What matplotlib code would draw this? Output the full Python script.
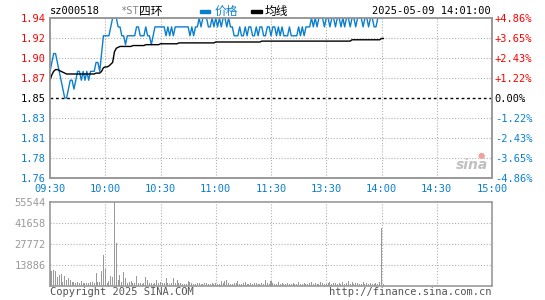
import numpy as np
import matplotlib.pyplot as plt

# 分时数据 (每分钟)
prices = [
    1.88, 1.89, 1.90, 1.90, 1.89, 1.88, 1.87, 1.86, 1.85, 1.85,
    1.86, 1.87, 1.87, 1.86, 1.87, 1.88, 1.88, 1.87, 1.88, 1.87,
    1.88, 1.87, 1.88, 1.88, 1.88, 1.89, 1.89, 1.88, 1.90, 1.92,
    1.92, 1.92, 1.92, 1.93, 1.94, 1.94, 1.94, 1.93, 1.93, 1.92,
    1.92, 1.91, 1.92, 1.92, 1.92, 1.92, 1.92, 1.93, 1.93, 1.92,
    1.92, 1.92, 1.93, 1.92, 1.92, 1.91, 1.92, 1.93, 1.93, 1.93,
    1.93, 1.93, 1.93, 1.92, 1.93, 1.92, 1.93, 1.92, 1.93, 1.93,
    1.93, 1.93, 1.93, 1.93, 1.93, 1.93, 1.92, 1.93, 1.92, 1.93,
    1.93, 1.94, 1.93, 1.94, 1.94, 1.94, 1.93, 1.93, 1.94, 1.93,
    1.94, 1.93, 1.94, 1.93, 1.94, 1.94, 1.93, 1.94, 1.93, 1.93,
    1.92, 1.92, 1.92, 1.93, 1.92, 1.92, 1.93, 1.92, 1.93, 1.93,
    1.92, 1.92, 1.93, 1.92, 1.93, 1.93, 1.92, 1.92, 1.93, 1.93,
    1.92, 1.93, 1.93, 1.92, 1.93, 1.92, 1.93, 1.92, 1.92, 1.92,
    1.93, 1.92, 1.92, 1.92, 1.92, 1.93, 1.92, 1.93, 1.92, 1.93,
    1.93, 1.93, 1.94, 1.93, 1.94, 1.93, 1.94, 1.94, 1.94, 1.93,
    1.94, 1.94, 1.93, 1.94, 1.94, 1.93, 1.94, 1.94, 1.93, 1.94,
    1.93, 1.94, 1.94, 1.93, 1.94, 1.94, 1.93, 1.94, 1.94, 1.94,
    1.93, 1.94, 1.94, 1.93, 1.94, 1.94, 1.93, 1.93, 1.94, 1.94,
    1.94, 1.94,
]

avg_prices = [
    1.870, 1.876, 1.880, 1.882, 1.882, 1.881, 1.880, 1.879, 1.878, 1.877,
    1.877, 1.877, 1.877, 1.877, 1.877, 1.877, 1.877, 1.877, 1.877, 1.877,
    1.877, 1.877, 1.877, 1.877, 1.877, 1.878, 1.878, 1.878, 1.880, 1.884,
    1.885, 1.885, 1.886, 1.888, 1.890, 1.902, 1.906, 1.907, 1.908, 1.908,
    1.908, 1.908, 1.908, 1.908, 1.908, 1.909, 1.909, 1.909, 1.909, 1.909,
    1.909, 1.909, 1.910, 1.910, 1.910, 1.910, 1.910, 1.910, 1.910, 1.910,
    1.911, 1.911, 1.911, 1.911, 1.911, 1.911, 1.911, 1.911, 1.911, 1.911,
    1.912, 1.912, 1.912, 1.912, 1.912, 1.912, 1.912, 1.912, 1.912, 1.912,
    1.912, 1.912, 1.912, 1.912, 1.912, 1.912, 1.912, 1.912, 1.912, 1.912,
    1.913, 1.913, 1.913, 1.913, 1.913, 1.913, 1.913, 1.913, 1.913, 1.913,
    1.913, 1.913, 1.913, 1.913, 1.913, 1.913, 1.913, 1.913, 1.913, 1.913,
    1.913, 1.913, 1.913, 1.913, 1.913, 1.914, 1.914, 1.914, 1.914, 1.914,
    1.914, 1.914, 1.914, 1.914, 1.914, 1.914, 1.914, 1.914, 1.914, 1.914,
    1.914, 1.914, 1.914, 1.914, 1.914, 1.914, 1.914, 1.914, 1.914, 1.914,
    1.914, 1.914, 1.914, 1.914, 1.914, 1.914, 1.914, 1.914, 1.914, 1.914,
    1.914, 1.914, 1.914, 1.914, 1.914, 1.914, 1.914, 1.914, 1.914, 1.914,
    1.914, 1.914, 1.914, 1.914, 1.9155, 1.9155, 1.9155, 1.9155, 1.9155, 1.9155,
    1.9155, 1.9155, 1.9155, 1.9155, 1.9155, 1.9155, 1.9155, 1.9155, 1.9155, 1.9155,
    1.917, 1.917,
]

volumes = [
    10300, 9800, 10300, 9700, 6000, 7000, 7500, 2600, 6300, 3700,
    4800, 3700, 2200, 2500, 2000, 2500, 2000, 3000, 2000, 1500,
    1800, 1500, 2500, 2500, 2000, 8500, 2500, 2500, 10000, 20000,
    11000, 2000, 3000, 6500, 6000, 55544, 28500, 3500, 7000, 2500,
    9000, 5000, 2000, 2500, 3000, 1500, 1500, 6500, 1500, 2000,
    1200, 1500, 6000, 3700, 1500, 1500, 1200, 1500, 3700, 1500,
    2500, 2000, 1500, 4800, 2000, 1200, 1500, 4800, 1500, 4000,
    2000, 1500, 1200, 1000, 1200, 3000, 2200, 1500, 1000, 1200,
    1500, 2000, 1200, 1000, 1500, 2000, 1200, 1000, 1500, 1200,
    1500, 1000, 1200, 3000, 1500, 3000, 4000, 1500, 1200, 1000,
    1500, 1800, 3000, 1200, 1000, 1500, 2500, 1200, 1000, 1500,
    1200, 1500, 2000, 1000, 1200, 1500, 1000, 3500, 2000, 1200,
    3000, 1500, 1200, 1000, 2500, 1200, 1500, 1000, 1200, 1500,
    1000, 1200, 1500, 1000, 1200, 2500, 1200, 1000, 1500, 1200,
    1000, 1500, 2500, 1200, 1500, 1000, 1200, 2500, 1500, 1200,
    1000, 1500, 2500, 1200, 1800, 2000, 1200, 1500, 1000, 2500,
    1200, 1500, 3000, 1200, 2500, 1000, 1500, 2000, 1200, 1000,
    2500, 1200, 1500, 1000, 2000, 1200, 1000, 1500, 1200, 2500,
    38000, 1200,
]

prev_close = 1.85
price_labels = ["1.76", "1.78", "1.81", "1.83", "1.85", "1.87", "1.90", "1.92", "1.94"]
pct_labels = ["-4.86%", "-3.65%", "-2.43%", "-1.22%", "0.00%",
              "+1.22%", "+2.43%", "+3.65%", "+4.86%"]
time_labels = ["09:30", "10:00", "10:30", "11:00", "11:30",
               "13:30", "14:00", "14:30", "15:00"]
vol_labels = ["13886", "27772", "41658", "55544"]

BLUE = "#0a7fd0"
RED = "#ff0000"
GRID = "#b0b0b0"
FRAME = "#999999"
MONO = "DejaVu Sans Mono"
CJK = ["Noto Sans CJK SC", "DejaVu Sans"]

plt.rcParams['font.family'] = [MONO, "Noto Sans CJK SC"]

W, H = 545, 300
fig = plt.figure(figsize=(W / 100, H / 100), dpi=100)


def fx(x):
    return x / W


def fy(y):
    return 1 - y / H


# 坐标区 (像素)
L, R = 50, 492
T1, B1 = 18, 178
T2, B2 = 201.7, 285.7
ax = fig.add_axes([fx(L), fy(B1), (R - L) / W, (B1 - T1) / H])
axv = fig.add_axes([fx(L), fy(B2), (R - L) / W, (B2 - T2) / H])

minutes = np.arange(len(prices))
x_ticks = np.arange(0, 241, 30)

# 价格区
ymin, ymax = 1.76, 1.94
levels = np.linspace(ymin, ymax, 9)
ax.set_xlim(0, 240)
ax.set_ylim(ymin, ymax)
for lv in levels[1:-1]:
    if abs(lv - prev_close) < 1e-6:
        ax.axhline(lv, color="black", lw=1.0, dashes=(2, 2), zorder=1)
    else:
        ax.axhline(lv, color=GRID, lw=0.8, dashes=(1, 1.6), zorder=1)
for xt in x_ticks[1:-1]:
    ax.axvline(xt, color=GRID, lw=0.8, dashes=(1, 1.6), zorder=1)

ax.plot(minutes, prices, color=BLUE, lw=1.0, zorder=3, drawstyle="default")
ax.plot(minutes, avg_prices, color="black", lw=1.0, zorder=4)

ax.set_yticks(levels)
ax.set_yticklabels(price_labels)
ax.set_xticks(x_ticks)
ax.set_xticklabels(time_labels)
ax.tick_params(axis="both", length=0, labelsize=7.5)
ax.tick_params(axis="y", pad=3)
ax.tick_params(axis="x", pad=4, colors=BLUE)
for i, lab in enumerate(ax.get_yticklabels()):
    lab.set_color(BLUE if i < 4 else ("black" if i == 4 else RED))

ax2 = ax.twinx()
ax2.set_ylim(ymin, ymax)
ax2.set_yticks(levels)
ax2.set_yticklabels(pct_labels)
ax2.tick_params(axis="y", length=0, labelsize=7.5, pad=2)
for i, lab in enumerate(ax2.get_yticklabels()):
    lab.set_color(BLUE if i < 4 else ("black" if i == 4 else RED))

for a in (ax, ax2):
    for s in a.spines.values():
        s.set_color(FRAME)
        s.set_linewidth(1.2)

# 成交量区
vmax = 55544
axv.set_xlim(0, 240)
axv.set_ylim(0, vmax)
for k in range(1, 4):
    axv.axhline(vmax * k / 4, color=GRID, lw=0.8, dashes=(1, 1.6), zorder=1)
for xt in x_ticks[1:-1]:
    axv.axvline(xt, color=GRID, lw=0.8, dashes=(1, 1.6), zorder=1)
axv.bar(minutes, volumes, width=0.55, color="#999999", zorder=2)
axv.set_yticks([vmax * k / 4 for k in range(1, 5)])
axv.set_yticklabels(vol_labels)
axv.set_xticks([])
axv.tick_params(axis="y", length=0, labelsize=7.5, pad=3, colors="#999999")
for s in axv.spines.values():
    s.set_color(FRAME)
    s.set_linewidth(1.2)

# 顶部标题与图例
fig.text(fx(50), fy(11), "sz000518", fontsize=7.5, color="black",
         va="center", ha="left")
fig.text(fx(120), fy(11), "*ST", fontsize=7.5, color="#888888",
         va="center", ha="left")
fig.text(fx(139), fy(11), "四环", fontsize=8.5, color="black",
         va="center", ha="left", family=CJK)
fig.patches.append(plt.Rectangle((fx(200), fy(13)), 10 / W, 3 / H,
                                 transform=fig.transFigure, color=BLUE))
fig.text(fx(215), fy(11), "价格", fontsize=8.5, color=BLUE,
         va="center", ha="left", family=CJK)
fig.patches.append(plt.Rectangle((fx(251), fy(13)), 11 / W, 3 / H,
                                 transform=fig.transFigure, color="black"))
fig.text(fx(265), fy(11), "均线", fontsize=8.5, color="black",
         va="center", ha="left", family=CJK)
fig.text(fx(491), fy(11), "2025-05-09 14:01:00", fontsize=7.5,
         color="black", va="center", ha="right")

# 水印
fig.text(fx(472), fy(165), "sina", fontsize=10, color="#c0c0c0",
         style="italic", weight="bold", va="center", ha="center",
         family="DejaVu Sans")
fig.text(fx(481), fy(155), "●", fontsize=6, color="#f0a0a0",
         va="center", ha="center", family="DejaVu Sans")

# 底部版权
fig.text(fx(50), fy(292), "Copyright 2025 SINA.COM", fontsize=7.5,
         color="#555555", va="center", ha="left")
fig.text(fx(491), fy(292), "http://finance.sina.com.cn", fontsize=7.5,
         color="#555555", va="center", ha="right")

fig.savefig("out.png", dpi=100)
